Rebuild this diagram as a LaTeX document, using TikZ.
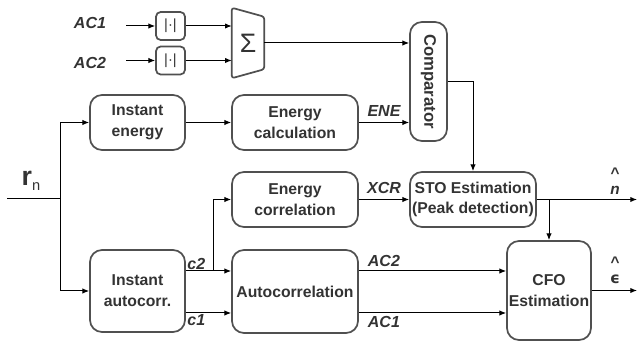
\documentclass[tikz,border=0pt]{standalone}
\usepackage{fontspec}
\setmainfont{Liberation Sans}
\newfontfamily\greekfont{DejaVu Sans}
\usetikzlibrary{arrows.meta,positioning,calc}
\definecolor{boxgrey}{HTML}{505050}
\definecolor{txtgrey}{HTML}{333333}

\begin{document}
\begin{tikzpicture}[x=0.75pt, y=-0.75pt,
  every node/.style={font=\bfseries\fontsize{11.8}{15.5}\selectfont, align=center, text=txtgrey},
  block/.style={rectangle, rounded corners=9pt, draw=boxgrey, line width=1.3pt, inner sep=1pt},
  absbox/.style={rectangle, rounded corners=3.5pt, draw=boxgrey, line width=1.3pt, minimum width=21.75pt, minimum height=21pt, inner sep=0pt, font=\fontsize{11}{11}\selectfont},
  sig/.style={font=\bfseries\itshape\fontsize{12}{12}\selectfont, text=txtgrey, inner sep=1pt},
  hat/.style={font=\bfseries\fontsize{11.5}{12}\selectfont, text=txtgrey, inner sep=0pt, align=center},
  arrow/.style={-{Latex[length=5pt,width=4pt]}, line width=0.75pt}
]

\useasboundingbox (0,0) rectangle (637,341);

\node[block, minimum width=71.25pt, minimum height=41.25pt] (ienergy) at (137.5,122.5) {Instant\\energy};
\node[block, minimum width=94.5pt, minimum height=41.25pt] (ecalc) at (295,122.5) {Energy\\calculation};
\node[block, minimum width=94.5pt, minimum height=41.25pt] (ecorr) at (295,199.5) {Energy\\correlation};
\node[block, minimum width=94.5pt, minimum height=41.25pt] (sto) at (473,199.5) {STO Estimation\\(Peak detection)};
\node[block, minimum width=71.25pt, minimum height=61.5pt] (iauto) at (137.5,291) {Instant\\autocorr.};
\node[block, minimum width=94.5pt, minimum height=62.25pt] (autoc) at (295,291.5) {Autocorrelation};
\node[block, minimum width=63pt, minimum height=74.25pt] (cfo) at (549,290.5) {CFO\\Estimation};
\node[block, minimum width=27.75pt, minimum height=89.25pt] (comp) at (428.5,81.5) {\rotatebox{-90}{\fontsize{12.5}{12.5}\selectfont Comparator}};

\node[absbox] (abs1) at (170.5,26) {|·|};
\node[absbox] (abs2) at (170.5,60.5) {|·|};
\node[minimum width=24pt, minimum height=52.5pt, inner sep=0pt, font=\fontsize{20}{20}\selectfont] (sum) at (248,43) {Σ};
\draw[boxgrey, line width=1.3pt, rounded corners=2pt] (sum.north west) -- ([yshift=-6.75pt]sum.north east) -- ([yshift=6.75pt]sum.south east) -- (sum.south west) -- cycle;

\node[sig] (ac1) at (90,23) {AC1};
\node[sig] (ac2) at (90,63) {AC2};
\coordinate (in1) at (126,26);
\coordinate (in2) at (126,60.5);
\draw[arrow] (in1) -- (abs1);
\draw[arrow] (in2) -- (abs2);
\draw[arrow] (abs1) -- (abs1 -| sum.west);
\draw[arrow] (abs2) -- (abs2 -| sum.west);
\draw[arrow] (sum.east) -- (sum.east -| comp.west);

\draw[arrow] (ienergy) -- (ecalc);
\draw[arrow] (ecalc) -- node[sig, above, yshift=3pt] (ene) {ENE} (ecalc -| comp.west);
\draw[arrow] (comp.east) -| (sto.north);

\coordinate (rin) at (7,199);
\coordinate (split) at (60,199);
\node (rn) at (31,181) {\fontsize{20}{20}\selectfont r\raisebox{-4pt}{\mdseries\fontsize{11}{11}\selectfont n}};
\draw[line width=0.75pt] (rin) -- (split);
\draw[arrow] (split) |- (ienergy);
\draw[arrow] (split) |- (iauto);

\coordinate (c2) at ([yshift=15pt]iauto.east);
\coordinate (c1) at ([yshift=-16.5pt]iauto.east);
\draw[arrow] (c2) -- (c2 -| autoc.west);
\draw[arrow] (c1) -- (c1 -| autoc.west);
\coordinate (c2b) at ($(c2)!0.62!(c2 -| autoc.west)$);
\draw[arrow] (c2b) |- (ecorr);
\node[sig, anchor=south west] (lc2) at (c2) {c2};
\node[sig, anchor=north west] (lc1) at (c1) {c1};

\draw[arrow] (ecorr) -- node[sig, above, yshift=3pt] (xcr) {XCR} (sto);
\coordinate (nout) at (637,199.5);
\draw[arrow] (sto) -- (nout);
\coordinate (br) at (cfo.north |- sto.east);
\draw[arrow] (br) -- (cfo);
\node[hat] (nhat) at (615,181) {\^{}\\{\itshape n}};

\draw[arrow] (autoc.east |- c2) -- node[sig, above, pos=0.17, yshift=2pt] (lac2) {AC2} (cfo.west |- c2);
\draw[arrow] (autoc.east |- c1) -- node[sig, below, pos=0.17, yshift=-1pt] (lac1) {AC1} (cfo.west |- c1);
\coordinate (eout) at (637,290.5);
\draw[arrow] (cfo) -- (eout);
\node[hat] (ehat) at (615,270) {\^{}\\{\greekfont\bfseries ϵ}};

\end{tikzpicture}
\end{document}
